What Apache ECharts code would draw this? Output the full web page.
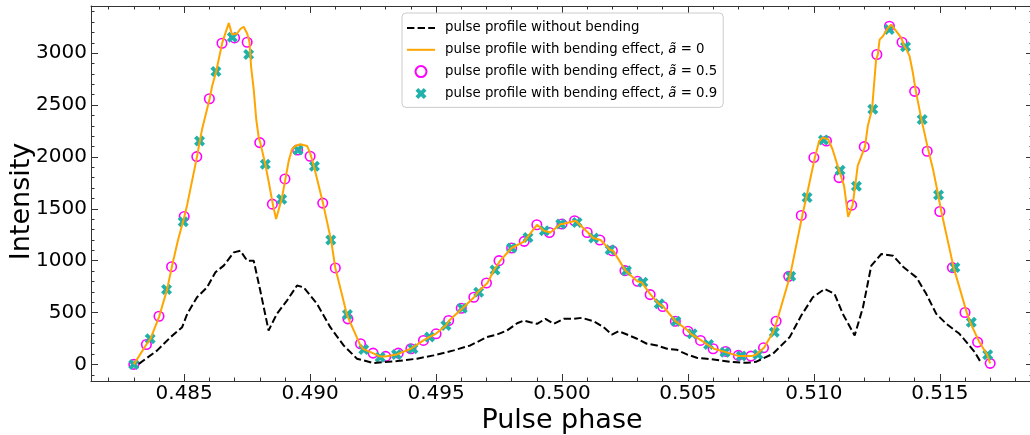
<!DOCTYPE html>
<html>
<head>
<meta charset="utf-8">
<script src="https://cdn.jsdelivr.net/npm/echarts@6/dist/echarts.min.js"></script>
<style>
html,body{margin:0;padding:0;background:#fff;}
#chart{width:1030px;height:435px;}
</style>
</head>
<body>
<div id="chart"></div>
<script>
// ---------- tick labels ----------
const xMajorTicks = [0.485, 0.490, 0.495, 0.500, 0.505, 0.510, 0.515];
const xMinorTicks = [0.482, 0.483, 0.484, 0.486, 0.487, 0.488, 0.489, 0.491, 0.492, 0.493, 0.494,
  0.496, 0.497, 0.498, 0.499, 0.501, 0.502, 0.503, 0.504, 0.506, 0.507, 0.508, 0.509,
  0.511, 0.512, 0.513, 0.514, 0.516, 0.517, 0.518];
const yMajorTicks = [0, 500, 1000, 1500, 2000, 2500, 3000];
const yMinorTicks = [-100, 100, 200, 300, 400, 600, 700, 800, 900, 1100, 1200, 1300, 1400,
  1600, 1700, 1800, 1900, 2100, 2200, 2300, 2400, 2600, 2700, 2800, 2900, 3100, 3200, 3300, 3400];

// ---------- series names ----------
const seriesNames = [
  'pulse profile without bending',
  'pulse profile with bending effect, ã = 0',
  'pulse profile with bending effect, ã = 0.5',
  'pulse profile with bending effect, ã = 0.9'
];

// ---------- pulse profile without bending (black dashed) ----------
const noBendPhase = [0.4832, 0.48393, 0.48446, 0.48492, 0.48512, 0.48551, 0.48591, 0.48624, 0.48657,
  0.48697, 0.48723, 0.48750, 0.48776, 0.48802, 0.48835, 0.48868, 0.48908, 0.48948, 0.48974,
  0.49027, 0.49080, 0.49133, 0.49186, 0.49252, 0.49345, 0.49424, 0.49490, 0.49570, 0.49636,
  0.49702, 0.49742, 0.49782, 0.49822, 0.49848, 0.49874, 0.49901, 0.49934, 0.49967, 0.50007,
  0.50046, 0.50079, 0.50126, 0.50165, 0.50198, 0.50225, 0.50258, 0.50298, 0.50337, 0.50377,
  0.50417, 0.50456, 0.50496, 0.50535, 0.50575, 0.50628, 0.50681, 0.50733, 0.50770, 0.50838,
  0.50904, 0.50950, 0.50996, 0.51043, 0.51082, 0.51115, 0.51162, 0.51195, 0.51228, 0.51268,
  0.51314, 0.51354, 0.51407, 0.51446, 0.51486, 0.51526, 0.51578, 0.51638, 0.51664];
const noBendInt = [5, 135, 263, 359, 487, 647, 743, 888, 952,
  1080, 1096, 1000, 1000, 712, 327, 487, 615, 760, 743,
  584, 359, 183, 55, 13, 32, 55, 87, 135, 183,
  263, 288, 327, 397, 423, 407, 391, 439, 391, 439,
  439, 449, 416, 359, 288, 320, 288, 247, 199, 183,
  151, 141, 96, 64, 55, 38, 22, 15, 25, 103,
  263, 471, 647, 728, 680, 487, 279, 551, 952, 1064,
  1048, 942, 839, 680, 487, 391, 295, 121, 15];

// ---------- bending effect, a = 0 (orange line) ----------
const a0Phase = [0.48300, 0.48350, 0.48366, 0.48401, 0.48432, 0.48451, 0.48475, 0.48498, 0.48512,
  0.48551, 0.48562, 0.48571, 0.48584, 0.48601, 0.48611, 0.48627, 0.48637, 0.48651, 0.48664,
  0.48677, 0.48690, 0.48710, 0.48723, 0.48736, 0.48750, 0.48759, 0.48766, 0.48776, 0.48786,
  0.48796, 0.48802, 0.48822, 0.48836, 0.48853, 0.48865, 0.48882, 0.48887, 0.48902, 0.48915,
  0.48928, 0.48941, 0.48961, 0.48988, 0.49001, 0.49015, 0.49051, 0.49083, 0.49100, 0.49146,
  0.49153, 0.49199, 0.49210, 0.49249, 0.49278, 0.49298, 0.49344, 0.49350, 0.49400, 0.49450,
  0.49472, 0.49499, 0.49539, 0.49552, 0.49605, 0.49651, 0.49665, 0.49704, 0.49730, 0.49755,
  0.49800, 0.49851, 0.49862, 0.49901, 0.49928, 0.49954, 0.49994, 0.50003, 0.50054, 0.50058,
  0.50103, 0.50124, 0.50153, 0.50190, 0.50203, 0.50252, 0.50299, 0.50316, 0.50352, 0.50385,
  0.50402, 0.50451, 0.50504, 0.50511, 0.50553, 0.50577, 0.50603, 0.50650, 0.50656, 0.50703,
  0.50753, 0.50771, 0.50802, 0.50838, 0.50853, 0.50905, 0.50954, 0.50970, 0.51004, 0.51021,
  0.51035, 0.51057, 0.51074, 0.51100, 0.51120, 0.51136, 0.51154, 0.51164, 0.51174, 0.51194,
  0.51203, 0.51214, 0.51231, 0.51247, 0.51254, 0.51261, 0.51274, 0.51294, 0.51307, 0.51327,
  0.51347, 0.51360, 0.51367, 0.51380, 0.51393, 0.51405, 0.51427, 0.51453, 0.51473, 0.51493,
  0.51506, 0.51555, 0.51607, 0.51620, 0.51657, 0.51688, 0.51700];
const a0Int = [0, 192, 247, 464, 721, 942, 1195, 1400, 1540,
  2003, 2154, 2266, 2394, 2561, 2683, 2824, 2939, 3099, 3196,
  3290, 3180, 3190, 3233, 3255, 3190, 3110, 2860, 2651, 2363,
  2186, 2138, 1930, 1753, 1529, 1401, 1550, 1593, 1788, 1962,
  2074, 2106, 2122, 2106, 2030, 1910, 1555, 1199, 930, 481,
  439, 185, 150, 109, 75, 77, 96, 105, 151, 231,
  263, 295, 375, 423, 541, 647, 695, 785, 910, 1000,
  1122, 1186, 1224, 1346, 1288, 1272, 1353, 1353, 1385, 1368,
  1272, 1218, 1199, 1106, 1096, 904, 801, 791, 673, 584,
  558, 416, 320, 295, 231, 192, 151, 118, 125, 80,
  80, 96, 160, 311, 416, 849, 1436, 1609, 1994, 2154,
  2186, 2170, 2074, 1870, 1721, 1423, 1538, 1718, 1913, 2042,
  2099, 2298, 2459, 2939, 2987, 3131, 3163, 3243, 3276, 3212,
  3147, 3061, 3040, 2971, 2811, 2632, 2362, 2080, 1882, 1640,
  1474, 933, 500, 407, 215, 93, 10];

// ---------- bending effect, a = 0.5 (magenta open circles) ----------
const a05Phase = [0.4830, 0.4835, 0.4840, 0.4845, 0.4850, 0.4855, 0.4860, 0.4865, 0.4870, 0.4875,
  0.4880, 0.4885, 0.4890, 0.4895, 0.4900, 0.4905, 0.4910, 0.4915, 0.4920, 0.4925,
  0.4930, 0.4935, 0.4940, 0.4945, 0.4950, 0.4955, 0.4960, 0.4965, 0.4970, 0.4975,
  0.4980, 0.4985, 0.4990, 0.4995, 0.5000, 0.5005, 0.5010, 0.5015, 0.5020, 0.5025,
  0.5030, 0.5035, 0.5040, 0.5045, 0.5050, 0.5055, 0.5060, 0.5065, 0.5070, 0.5075,
  0.5080, 0.5085, 0.5090, 0.5095, 0.5100, 0.5105, 0.5110, 0.5115, 0.5120, 0.5125,
  0.5130, 0.5135, 0.5140, 0.5145, 0.5150, 0.5155, 0.5160, 0.5165, 0.5170];
const a05Int = [0, 192, 464, 942, 1426, 2003, 2561, 3096, 3147, 3106,
  2138, 1545, 1788, 2067, 2007, 1555, 930, 439, 199, 109,
  77, 109, 151, 231, 295, 423, 541, 647, 785, 1000,
  1122, 1186, 1346, 1272, 1353, 1385, 1272, 1199, 1096, 904,
  801, 673, 558, 416, 320, 231, 151, 125, 87, 80,
  160, 416, 849, 1436, 1994, 2154, 1801, 1535, 2099, 2987,
  3260, 3106, 2632, 2055, 1474, 933, 500, 215, 10];

// ---------- bending effect, a = 0.9 (teal X markers) ----------
const a09Phase = [0.48300, 0.48365, 0.48430, 0.48496, 0.48561, 0.48626, 0.48691, 0.48756, 0.48822,
  0.48887, 0.48952, 0.49017, 0.49082, 0.49148, 0.49213, 0.49278, 0.49343, 0.49408, 0.49474,
  0.49539, 0.49604, 0.49669, 0.49734, 0.49800, 0.49865, 0.49930, 0.49995, 0.50060, 0.50126,
  0.50191, 0.50256, 0.50321, 0.50386, 0.50452, 0.50517, 0.50582, 0.50647, 0.50712, 0.50778,
  0.50843, 0.50908, 0.50973, 0.51038, 0.51104, 0.51169, 0.51234, 0.51299, 0.51364, 0.51430,
  0.51495, 0.51560, 0.51625, 0.51690];
const a09Int = [0, 247, 721, 1375, 2154, 2824, 3154, 2988, 1930,
  1593, 2067, 1910, 1199, 481, 144, 70, 96, 151, 263,
  375, 541, 695, 910, 1122, 1224, 1288, 1353, 1368, 1218,
  1106, 904, 791, 584, 416, 295, 192, 118, 80, 96,
  311, 849, 1609, 2163, 1872, 1718, 2459, 3228, 3061, 2362,
  1633, 933, 407, 93];

// ---------- build ----------
const zip = (xs, ys) => xs.map((x, i) => [x, ys[i]]);
const FONT = "'DejaVu Sans', sans-serif";
const AX = '#333';
const X_MIN = 0.4813, X_MAX = 0.5187, Y_MIN = -160, Y_MAX = 3455;
const X_PATH = 'path://M-0.25,-0.5L0,-0.25L0.25,-0.5L0.5,-0.25L0.25,0L0.5,0.25L0.25,0.5L0,0.25L-0.25,0.5L-0.5,0.25L-0.25,0L-0.5,-0.25Z';

function xAxisDef(pos, ticks, len, showLine, showLabel) {
  return {
    type: 'value', position: pos, min: X_MIN, max: X_MAX, gridIndex: 0,
    axisLine: { show: showLine, onZero: false, lineStyle: { color: AX, width: 1 } },
    axisTick: { show: true, inside: true, length: len, customValues: ticks, lineStyle: { color: AX, width: 1 } },
    axisLabel: { show: showLabel, customValues: ticks, formatter: v => v.toFixed(3),
      fontFamily: FONT, fontSize: 20, color: '#000', margin: 3 },
    splitLine: { show: false }
  };
}
function yAxisDef(pos, ticks, len, showLine, showLabel) {
  return {
    type: 'value', position: pos, min: Y_MIN, max: Y_MAX, gridIndex: 0,
    axisLine: { show: showLine, onZero: false, lineStyle: { color: AX, width: 1 } },
    axisTick: { show: true, inside: true, length: len, customValues: ticks, lineStyle: { color: AX, width: 1 } },
    axisLabel: { show: showLabel, customValues: ticks, formatter: v => String(v),
      fontFamily: FONT, fontSize: 20, color: '#000', margin: 4 },
    splitLine: { show: false }
  };
}

const xAxes = [
  xAxisDef('bottom', xMajorTicks, 7, true, true),
  xAxisDef('bottom', xMinorTicks, 3.5, false, false),
  xAxisDef('top', xMajorTicks, 7, true, false),
  xAxisDef('top', xMinorTicks, 3.5, false, false)
];
xAxes[0].name = 'Pulse phase';
xAxes[0].nameLocation = 'middle';
xAxes[0].nameGap = 26;
xAxes[0].nameMoveOverlap = false;
xAxes[0].nameTextStyle = { fontFamily: FONT, fontSize: 27, color: '#000' };

const yAxes = [
  yAxisDef('left', yMajorTicks, 7, true, true),
  yAxisDef('left', yMinorTicks, 3.5, false, false),
  yAxisDef('right', yMajorTicks, 7, true, false),
  yAxisDef('right', yMinorTicks, 3.5, false, false)
];
yAxes[0].name = 'Intensity';
yAxes[0].nameLocation = 'middle';
yAxes[0].nameGap = 56;
yAxes[0].nameMoveOverlap = false;
yAxes[0].nameTextStyle = { fontFamily: FONT, fontSize: 27, color: '#000', padding: [0, 16, 0, 0] };

const hidden = { color: 'rgba(0,0,0,0)', borderColor: 'rgba(0,0,0,0)', borderWidth: 0 };

const chart = echarts.init(document.getElementById('chart'), null, { renderer: 'canvas' });
chart.setOption({
  animation: false,
  backgroundColor: '#fff',
  grid: { left: 91, top: 6, width: 942, height: 375, containLabel: false, outerBoundsMode: 'none' },
  xAxis: xAxes,
  yAxis: yAxes,
  legend: {
    orient: 'vertical', left: 402, top: 13,
    itemWidth: 28, itemHeight: 11, itemGap: 8.8,
    padding: [8.5, 6, 7.5, 4],
    backgroundColor: 'rgba(255,255,255,0.8)',
    borderColor: '#cccccc', borderWidth: 1, borderRadius: 4,
    textStyle: { fontFamily: FONT, fontSize: 13.3, color: '#000', padding: [0, 0, 0, 5],
      rich: { i: { fontFamily: FONT, fontStyle: 'italic', fontSize: 13.3, color: '#000' } } },
    formatter: name => name.replace('ã', '{i|ã}'),
    data: [
      { name: seriesNames[0], itemStyle: hidden },
      { name: seriesNames[1], itemStyle: hidden },
      { name: seriesNames[2] },
      { name: seriesNames[3] }
    ]
  },
  series: [
    {
      name: seriesNames[0], type: 'line', data: zip(noBendPhase, noBendInt),
      symbol: 'none', showSymbol: false, smooth: false,
      lineStyle: { color: '#000', width: 2, type: [7.4, 3.2] }, itemStyle: { color: '#000' }
    },
    {
      name: seriesNames[1], type: 'line', data: zip(a0Phase, a0Int),
      symbol: 'none', showSymbol: false, smooth: false,
      lineStyle: { color: '#ffa500', width: 2 }, itemStyle: { color: '#ffa500' }
    },
    {
      name: seriesNames[2], type: 'scatter', data: zip(a05Phase, a05Int),
      symbol: 'circle', symbolSize: 9.5,
      itemStyle: { color: 'rgba(0,0,0,0)', borderColor: '#ff00ff', borderWidth: 1.6, opacity: 1 }
    },
    {
      name: seriesNames[3], type: 'scatter', data: zip(a09Phase, a09Int),
      symbol: X_PATH, symbolSize: 11,
      itemStyle: { color: '#20b2aa', opacity: 1 }
    }
  ]
});
</script>
</body>
</html>
